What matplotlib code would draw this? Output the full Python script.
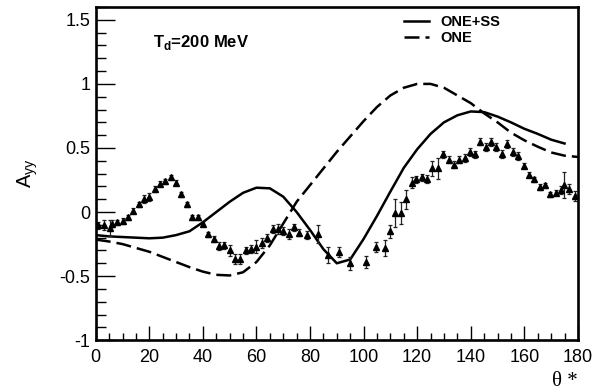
import numpy as np
import matplotlib
matplotlib.use('Agg')
import matplotlib.pyplot as plt
from matplotlib.ticker import MultipleLocator

plt.rcParams['font.family'] = ['Liberation Sans', 'DejaVu Sans']

# measured points (theta*, Ayy, error)
theta_data = [0.9, 3, 5.2, 6.2, 8.1, 10, 12, 14.1, 16, 18, 20, 22, 24, 26, 28, 30, 32, 34,
              36, 38, 40, 42, 44, 46, 48, 50, 52, 54, 56, 58, 60, 62, 64, 66, 68, 70, 72,
              74, 76, 78.7, 82.8, 86.8, 90.9, 94.8, 100.8, 104.8, 107.8, 109.8, 111.8,
              113.8, 115.8, 117.9, 119.7, 121.7, 123.7, 125.7, 127.7, 129.7, 131.7, 133.7,
              135.7, 137.7, 139.7, 141.6, 143.6, 145.6, 147.6, 149.6, 151.7, 153.7, 155.7,
              157.7, 159.7, 161.7, 163.7, 165.7, 167.7, 169.6, 171.7, 173.6, 174.9, 176.8,
              178.9]
ayy_data = [-0.105, -0.10, -0.125, -0.09, -0.08, -0.07, -0.04, 0.01, 0.06, 0.10, 0.12, 0.18,
            0.22, 0.24, 0.27, 0.23, 0.14, 0.06, -0.04, -0.04, -0.09, -0.175, -0.21, -0.265,
            -0.26, -0.30, -0.365, -0.365, -0.30, -0.29, -0.27, -0.24, -0.20, -0.135, -0.13,
            -0.15, -0.17, -0.12, -0.16, -0.18, -0.17, -0.335, -0.31, -0.40, -0.39, -0.27,
            -0.28, -0.15, -0.01, -0.01, 0.10, 0.23, 0.255, 0.27, 0.26, 0.34, 0.34, 0.45,
            0.41, 0.37, 0.41, 0.42, 0.47, 0.45, 0.55, 0.505, 0.545, 0.51, 0.455, 0.53, 0.47,
            0.44, 0.36, 0.29, 0.255, 0.195, 0.21, 0.14, 0.15, 0.17, 0.21, 0.18, 0.125]
err_data = [0.03, 0.04, 0.06, 0.03, 0.02, 0.02, 0.02, 0.02, 0.02, 0.03, 0.03, 0.02,
            0.02, 0.02, 0.02, 0.02, 0.02, 0.02, 0.02, 0.02, 0.02, 0.02, 0.02, 0.03,
            0.03, 0.04, 0.04, 0.04, 0.03, 0.03, 0.05, 0.04, 0.03, 0.03, 0.04, 0.03,
            0.04, 0.03, 0.03, 0.03, 0.07, 0.06, 0.04, 0.05, 0.05, 0.04, 0.06, 0.05,
            0.11, 0.085, 0.075, 0.04, 0.03, 0.03, 0.03, 0.06, 0.08, 0.03, 0.03, 0.03,
            0.03, 0.03, 0.03, 0.03, 0.03, 0.03, 0.03, 0.03, 0.03, 0.03, 0.03, 0.03,
            0.02, 0.02, 0.02, 0.02, 0.02, 0.02, 0.02, 0.03, 0.10, 0.04, 0.04]

# ONE+SS calculation
theta_ss = [0, 5, 10, 15, 20, 25, 30, 35, 40, 45, 50, 55, 60, 65, 70, 75, 80, 85, 90,
            95, 100, 105, 110, 115, 120, 125, 130, 135, 140, 145, 150, 155, 160, 165,
            170, 175]
ayy_ss = [-0.18, -0.19, -0.195, -0.20, -0.205, -0.20, -0.18, -0.15, -0.08, 0.0, 0.08,
          0.15, 0.19, 0.185, 0.12, 0.0, -0.14, -0.29, -0.40, -0.37, -0.21, -0.03, 0.16,
          0.345, 0.49, 0.61, 0.70, 0.755, 0.785, 0.78, 0.745, 0.70, 0.65, 0.61, 0.565, 0.535]

# ONE calculation
theta_one = [0, 5, 10, 15, 20, 25, 30, 35, 40, 45, 50, 55, 60, 65, 70, 75, 80, 85, 90,
             95, 100, 105, 110, 115, 120, 125, 130, 135, 140, 145, 150, 155, 160, 165,
             170, 175, 180]
ayy_one = [-0.215, -0.23, -0.25, -0.28, -0.31, -0.35, -0.39, -0.43, -0.465, -0.49,
           -0.495, -0.47, -0.39, -0.26, -0.09, 0.08, 0.21, 0.34, 0.47, 0.59, 0.71, 0.82,
           0.91, 0.97, 1.0, 1.0, 0.97, 0.91, 0.85, 0.77, 0.70, 0.62, 0.56, 0.51, 0.465,
           0.44, 0.43]

fig = plt.figure(figsize=(6.02, 3.91), dpi=100)
ax = fig.add_axes([0.159, 0.130, 0.801, 0.852])

l1, = ax.plot(theta_ss, ayy_ss, color='black', lw=1.8, label='ONE+SS')
l2, = ax.plot(theta_one, ayy_one, color='black', lw=1.8, linestyle=(0, (6, 2.4)), label='ONE')
ax.errorbar(theta_data, ayy_data, yerr=err_data, fmt='^', color='black', ms=4.5,
            elinewidth=0.9, capsize=1.6, capthick=0.9, ecolor='#222222')

ax.set_xlim(0, 180)
ax.set_ylim(-1, 1.6)
ax.xaxis.set_major_locator(MultipleLocator(20))
ax.xaxis.set_minor_locator(MultipleLocator(5))
ax.yaxis.set_minor_locator(MultipleLocator(0.1))
ax.set_yticks([-1, -0.5, 0, 0.5, 1, 1.5])
ax.set_yticklabels(['-1', '-0.5', '0', '0.5', '1', '1.5'])
ax.tick_params(which='both', direction='in', top=False, right=False, labelsize=13, width=1)
ax.tick_params(axis='y', which='major', length=14, pad=4)
ax.tick_params(axis='y', which='minor', length=7)
ax.tick_params(axis='x', which='major', length=10, pad=6)
ax.tick_params(axis='x', which='minor', length=5)
for s in ax.spines.values():
    s.set_linewidth(1.9)

ax.set_ylabel(r'A$_{\mathregular{yy}}$', fontsize=14.5, labelpad=14)
ax.text(1.0, -0.125, 'θ *', transform=ax.transAxes, ha='right', va='center',
        fontsize=15, family=['Liberation Serif', 'DejaVu Serif'])
ax.text(0.118, 0.895, r'T$_{\mathregular{d}}$=200 MeV', transform=ax.transAxes,
        fontsize=12, fontweight='bold', va='center')

leg = ax.legend(handles=[l1, l2], loc='upper left', bbox_to_anchor=(0.64, 0.975),
                frameon=False, borderpad=0, borderaxespad=0, handlelength=1.7,
                handletextpad=0.8, labelspacing=0.1, prop={'size': 10.5, 'weight': 'bold'})

fig.savefig('out.png', dpi=100)
